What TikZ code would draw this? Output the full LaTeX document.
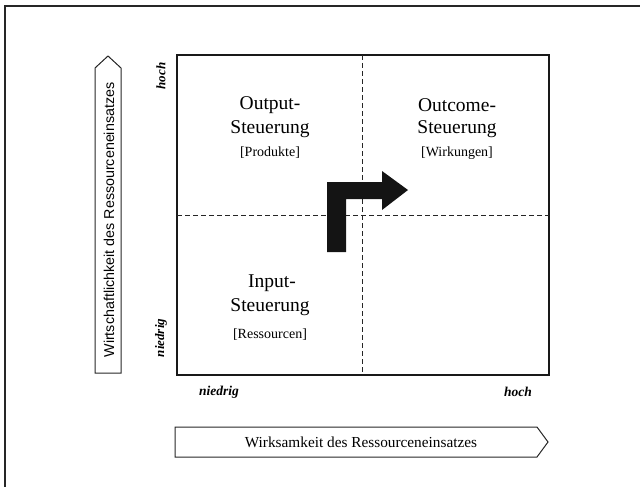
\documentclass[tikz,border=0pt]{standalone}
\usepackage{fontspec}
\setmainfont{Liberation Serif}
\setsansfont{Liberation Sans}
\begin{document}
\begin{tikzpicture}[x=1pt,y=-1pt,
  frame/.style={draw=black!85,line width=1.1pt},
  sq/.style={draw=black!90,line width=1.2pt},
  dashline/.style={draw=black!85,line width=0.9pt,dash pattern=on 5pt off 3pt},
  box/.style={draw=black!85,line width=1pt},
  big/.style={inner sep=0pt,font=\fontsize{19.5}{22}\selectfont},
  small/.style={inner sep=0pt,font=\fontsize{14}{16}\selectfont},
  ital/.style={inner sep=0pt,font=\fontsize{13.5}{16}\selectfont\bfseries\itshape},
  vital/.style={inner sep=0pt,rotate=90,font=\fontsize{13}{15}\selectfont\bfseries\itshape}]
\useasboundingbox (0,0) rectangle (640,487);
\draw[frame] (5,487) -- (5,6) -- (640,6);
% quadrant square
\coordinate (sqa) at (177,55);
\coordinate (sqb) at (549,375);
\draw[sq] (sqa) rectangle (sqb);
\coordinate (vt) at (362,55);
\coordinate (vb) at (362,375);
\coordinate (hl) at (177,215);
\coordinate (hr) at (549,215);
\draw[dashline] (vt) -- (vb);
\draw[dashline] (hl) -- (hr);
% bent arrow
\fill[black!92] (327,252) -- (327,182) -- (382,182) -- (382,171) -- (408,190) -- (382,210) -- (382,199) -- (346,199) -- (346,252) -- cycle;
% quadrant texts
\node[big] (o1) at (270,105) {Output-};
\node[big] (o2) at (270,129) {Steuerung};
\node[small] (o3) at (270,153) {[Produkte]};
\node[big] (c1) at (457,105) {Outcome-};
\node[big] (c2) at (457,129) {Steuerung};
\node[small] (c3) at (457,153) {[Wirkungen]};
\node[big] (i1) at (272,283) {Input-};
\node[big] (i2) at (270,307) {Steuerung};
\node[small] (i3) at (270,335) {[Ressourcen]};
% axis value labels
\node[ital] (xn) at (219,392) {niedrig};
\node[ital] (xh) at (518,392) {hoch};
\node[vital] (yh) at (161,76) {hoch};
\node[vital] (yn) at (161,338) {niedrig};
% bottom arrow box
\draw[box] (175,427) -- (537,427) -- (548,442) -- (537,457) -- (175,457) -- cycle;
\node[inner sep=0pt,font=\fontsize{15.3}{17}\selectfont] (xl) at (361,442) {Wirksamkeit des Ressourceneinsatzes};
% left arrow box
\draw[box] (95,373) -- (95,68) -- (108,56) -- (121,68) -- (121,373) -- cycle;
\node[inner sep=0pt,rotate=90,font=\sffamily\fontsize{14.3}{16}\selectfont] (yl) at (109,220) {Wirtschaftlichkeit des Ressourceneinsatzes};
\end{tikzpicture}
\end{document}
